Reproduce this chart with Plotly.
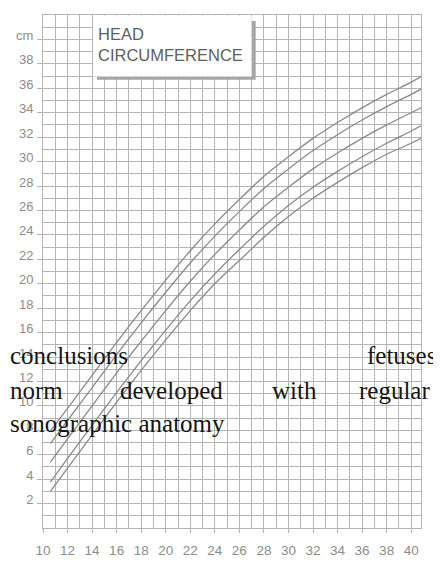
import plotly.graph_objects as go

# Gestational age (weeks) at which curve values were read
weeks = [10.6, 12, 14, 16, 18, 20, 22, 24, 26, 28, 30, 32, 34, 36, 38, 40, 40.8]

# Head circumference percentile curves (cm), top to bottom
p97 = [7.95, 9.8, 12.5, 15.2, 17.8, 20.3, 22.7, 24.9, 26.9, 28.8, 30.4, 31.9, 33.2, 34.4, 35.5, 36.5, 36.95]
p90 = [6.9, 8.8, 11.5, 14.2, 16.8, 19.3, 21.7, 23.9, 25.9, 27.8, 29.4, 30.9, 32.2, 33.4, 34.5, 35.5, 35.93]
p50 = [5.4, 7.3, 10.0, 12.7, 15.3, 17.8, 20.2, 22.4, 24.4, 26.3, 27.9, 29.4, 30.7, 31.9, 33.0, 34.0, 34.4]
p10 = [3.75, 5.7, 8.4, 11.1, 13.7, 16.2, 18.6, 20.8, 22.8, 24.7, 26.4, 27.9, 29.2, 30.4, 31.5, 32.5, 32.93]
p03 = [3.0, 4.9, 7.6, 10.3, 12.9, 15.4, 17.8, 20.0, 21.9, 23.8, 25.5, 27.0, 28.3, 29.5, 30.6, 31.5, 31.9]

x_ticks = list(range(10, 41, 2))
x_labels = [str(v) for v in x_ticks]
y_ticks = list(range(2, 41, 2))
y_labels = [str(v) for v in y_ticks[:-1]] + ["cm"]

title_lines = ["HEAD", "CIRCUMFERENCE"]
overlay_line1 = ["conclusions", "fetuses"]
overlay_line2 = ["norm", "developed", "with", "regular"]
overlay_line3 = ["sonographic anatomy"]

# The page body has an 8px margin, so the figure is 8px smaller each way
W, H = 433, 556
ML, MR, MT, MB = 35, 20, 6, 27
# plot area in page pixels
PL, PT = ML + 8, MT + 8
PW = W - ML - MR
PH = H - MT - MB
PB = PT + PH

def px(xpix):
    return (xpix - PL) / PW

def py(ypix):
    return (PB - ypix) / PH

GRID = "#b4b4b4"
CURVE = "#8a8a8a"
LABEL = "#8c8c8c"

fig = go.Figure()
for ys in [p97, p90, p50, p10, p03]:
    fig.add_trace(go.Scatter(x=weeks, y=ys, mode="lines",
                             line=dict(color=CURVE, width=1.3, shape="spline", smoothing=0.6),
                             hoverinfo="skip", showlegend=False))

fig.update_layout(
    width=W, height=H, autosize=False,
    margin=dict(l=ML, r=MR, t=MT, b=MB, pad=0),
    paper_bgcolor="white", plot_bgcolor="white",
    showlegend=False,
    xaxis=dict(range=[10, 40.8], tickvals=x_ticks, ticktext=x_labels,
               showgrid=True, gridcolor=GRID, gridwidth=1,
               minor=dict(dtick=1, tick0=10, showgrid=True, gridcolor=GRID, gridwidth=1),
               ticks="outside", ticklen=4, tickcolor=GRID, tickwidth=1,
               ticklabelstandoff=6,
               showline=True, linecolor=GRID, linewidth=1, mirror=True,
               zeroline=False, tickfont=dict(family="Liberation Sans, Arial", size=13.5, color=LABEL),
               fixedrange=True),
    yaxis=dict(range=[0, 42], tickvals=y_ticks, ticktext=y_labels,
               showgrid=True, gridcolor=GRID, gridwidth=1,
               minor=dict(dtick=1, tick0=0, showgrid=True, gridcolor=GRID, gridwidth=1),
               ticks="outside", ticklen=5, tickcolor=GRID, tickwidth=1,
               ticklabelstandoff=1, ticklabelshift=-4,
               showline=True, linecolor=GRID, linewidth=1, mirror=True,
               zeroline=False, tickfont=dict(family="Liberation Sans, Arial", size=13, color=LABEL),
               fixedrange=True),
)

# Title box with drop shadow
fig.add_shape(type="rect", xref="x", yref="y", x0=14.4, x1=27.33, y0=36.7, y1=41.5,
              fillcolor="#a6a6a6", line=dict(width=0), layer="above")
fig.add_shape(type="rect", xref="x", yref="y", x0=14.08, x1=27.0, y0=36.97, y1=41.96,
              fillcolor="white", line=dict(width=0), layer="above")
fig.add_annotation(x=px(96), y=py(22), xref="paper", yref="paper",
                   xanchor="left", yanchor="top", align="left", showarrow=False,
                   text="<br>".join(title_lines),
                   font=dict(family="Liberation Sans, Arial", size=16.5, color="#5e5e5e"))

# Overlay serif text (justified)
SERIF = dict(family="Liberation Serif, Times New Roman, serif", size=25, color="#151515")

def word(text, xpix, base, anchor):
    fig.add_annotation(x=px(xpix), y=py(base + 12), xref="paper", yref="paper",
                       xanchor=anchor, yanchor="bottom", showarrow=False,
                       text=text, font=SERIF)

word(overlay_line1[0], 8, 365, "left")
word(overlay_line1[1], 438, 365, "right")
word(overlay_line2[0], 8, 401, "left")
word(overlay_line2[1], 171, 401, "center")
word(overlay_line2[2], 294, 401, "center")
word(overlay_line2[3], 432, 401, "right")
word(overlay_line3[0], 8, 434.5, "left")

fig.write_html("out.html")
